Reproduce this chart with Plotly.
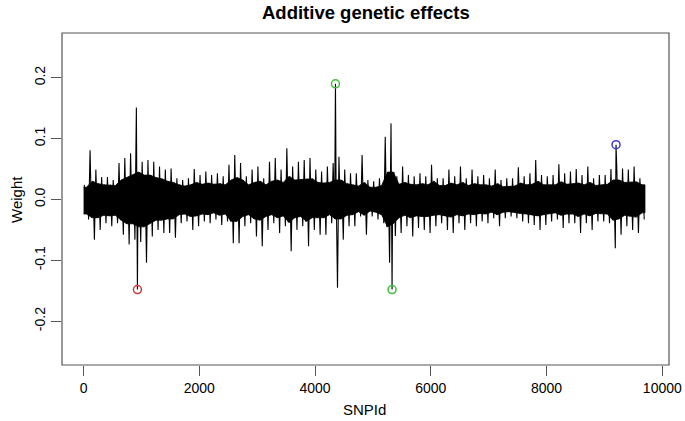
import plotly.graph_objects as go

# ---- data ----
# extreme envelope per 100-SNP bin
bin_start = list(range(0, 9700, 100))
upper = [0.024, 0.081, 0.049, 0.037, 0.037, 0.032, 0.060, 0.068, 0.076, 0.151,
         0.062, 0.065, 0.062, 0.054, 0.049, 0.051, 0.035, 0.032, 0.035, 0.050,
         0.040, 0.046, 0.040, 0.043, 0.038, 0.057, 0.073, 0.060, 0.038, 0.049,
         0.054, 0.035, 0.062, 0.068, 0.049, 0.084, 0.054, 0.062, 0.065, 0.068,
         0.049, 0.046, 0.054, 0.060, 0.070, 0.049, 0.043, 0.043, 0.073, 0.032,
         0.030, 0.035, 0.103, 0.125, 0.038, 0.054, 0.040, 0.038, 0.043, 0.038,
         0.057, 0.035, 0.035, 0.049, 0.038, 0.054, 0.035, 0.049, 0.038, 0.040,
         0.035, 0.049, 0.032, 0.035, 0.035, 0.053, 0.038, 0.043, 0.065, 0.040,
         0.038, 0.040, 0.058, 0.043, 0.046, 0.050, 0.040, 0.054, 0.035, 0.040,
         0.040, 0.050, 0.054, 0.051, 0.049, 0.054, 0.035]
lower = [-0.033, -0.066, -0.050, -0.039, -0.044, -0.039, -0.058, -0.074, -0.066, -0.070,
         -0.104, -0.061, -0.050, -0.055, -0.055, -0.063, -0.039, -0.036, -0.050, -0.044,
         -0.036, -0.039, -0.033, -0.042, -0.036, -0.072, -0.072, -0.044, -0.039, -0.061,
         -0.077, -0.050, -0.039, -0.055, -0.044, -0.085, -0.050, -0.044, -0.077, -0.050,
         -0.058, -0.058, -0.039, -0.145, -0.066, -0.044, -0.044, -0.028, -0.058, -0.028,
         -0.033, -0.039, -0.104, -0.060, -0.055, -0.044, -0.061, -0.047, -0.050, -0.055,
         -0.044, -0.039, -0.050, -0.055, -0.039, -0.050, -0.039, -0.044, -0.036, -0.039,
         -0.031, -0.044, -0.031, -0.028, -0.031, -0.036, -0.039, -0.042, -0.050, -0.042,
         -0.036, -0.033, -0.047, -0.039, -0.039, -0.055, -0.039, -0.050, -0.036, -0.036,
         -0.039, -0.080, -0.058, -0.044, -0.050, -0.055, -0.033]

# dense (solid) core band per 100-SNP bin
core_upper = [0.020, 0.030, 0.026, 0.024, 0.024, 0.023, 0.032, 0.036, 0.040, 0.045,
              0.040, 0.040, 0.036, 0.034, 0.030, 0.028, 0.024, 0.022, 0.024, 0.028,
              0.025, 0.027, 0.025, 0.026, 0.024, 0.032, 0.036, 0.032, 0.024, 0.028,
              0.030, 0.024, 0.030, 0.032, 0.028, 0.038, 0.032, 0.033, 0.034, 0.034,
              0.028, 0.027, 0.028, 0.032, 0.032, 0.026, 0.024, 0.022, 0.028, 0.020,
              0.020, 0.023, 0.045, 0.045, 0.025, 0.028, 0.025, 0.024, 0.026, 0.024,
              0.030, 0.023, 0.023, 0.027, 0.024, 0.028, 0.023, 0.026, 0.024, 0.024,
              0.022, 0.026, 0.021, 0.022, 0.022, 0.027, 0.024, 0.025, 0.030, 0.024,
              0.024, 0.024, 0.029, 0.025, 0.026, 0.027, 0.024, 0.028, 0.023, 0.024,
              0.025, 0.032, 0.032, 0.028, 0.028, 0.029, 0.024]
core_lower = [-0.024, -0.030, -0.030, -0.026, -0.027, -0.026, -0.034, -0.040, -0.040, -0.045,
              -0.045, -0.040, -0.034, -0.034, -0.032, -0.032, -0.025, -0.024, -0.028, -0.027,
              -0.024, -0.025, -0.022, -0.026, -0.024, -0.036, -0.036, -0.028, -0.025, -0.032,
              -0.034, -0.028, -0.025, -0.030, -0.027, -0.038, -0.030, -0.028, -0.036, -0.030,
              -0.030, -0.030, -0.025, -0.032, -0.032, -0.026, -0.025, -0.020, -0.026, -0.019,
              -0.021, -0.025, -0.045, -0.040, -0.030, -0.026, -0.030, -0.027, -0.028, -0.028,
              -0.026, -0.025, -0.027, -0.029, -0.025, -0.027, -0.024, -0.025, -0.023, -0.024,
              -0.021, -0.025, -0.021, -0.020, -0.021, -0.023, -0.024, -0.025, -0.027, -0.025,
              -0.023, -0.022, -0.026, -0.024, -0.024, -0.028, -0.024, -0.027, -0.023, -0.023,
              -0.024, -0.034, -0.032, -0.026, -0.028, -0.029, -0.022]

# highlighted SNPs
hl_snp = [930, 4352, 5330, 9200]
hl_val = [-0.148, 0.190, -0.148, 0.090]
hl_col = ["#D03C3C", "#3CC03C", "#3CC03C", "#3C3CC8"]

x_ticks = [0, 2000, 4000, 6000, 8000, 10000]
x_ticktext = ["0", "2000", "4000", "6000", "8000", "10000"]
y_ticks = [-0.2, -0.1, 0.0, 0.1, 0.2]
y_ticktext = ["-0.2", "-0.1", "0.0", "0.1", "0.2"]

# ---- build marks ----
pts = []
band_x = []
for b, u, l, cu, cl in zip(bin_start, upper, lower, core_upper, core_lower):
    pts.append((b + 12, u))
    pts.append((b + 37, cl))
    pts.append((b + 62, cu))
    pts.append((b + 87, l))
    band_x.append(b + 50)
for s, v in zip(hl_snp, hl_val):
    pts.append((s, v))
pts.sort(key=lambda p: p[0])
xs = [p[0] for p in pts]
ys = [p[1] for p in pts]

bx = [bin_start[0]] + band_x + [bin_start[-1] + 100]
bhi = [core_upper[0]] + core_upper + [core_upper[-1]]
blo = [core_lower[0]] + core_lower + [core_lower[-1]]

FONT = "Liberation Sans, Arial, sans-serif"
AX = "#555555"

fig = go.Figure()
fig.add_trace(go.Scatter(x=bx + bx[::-1], y=bhi + blo[::-1],
                         mode="lines", fill="toself", fillcolor="black",
                         line=dict(color="black", width=0.8),
                         hoverinfo="skip", showlegend=False))
fig.add_trace(go.Scatter(x=xs, y=ys, mode="lines",
                         line=dict(color="black", width=1.1),
                         hoverinfo="skip", showlegend=False))
fig.add_trace(go.Scatter(x=hl_snp, y=hl_val, mode="markers",
                         marker=dict(symbol="circle-open", size=8,
                                     color=hl_col, line=dict(width=1.5, color=hl_col)),
                         showlegend=False))

fig.update_layout(
    width=685, height=421,
    margin=dict(l=62, r=16, t=33, b=56),
    paper_bgcolor="white", plot_bgcolor="white",
    font=dict(family=FONT, size=14, color="black"),
    xaxis=dict(range=[-373, 10115], tickvals=x_ticks, ticktext=x_ticktext,
               ticks="outside", ticklen=10, tickcolor=AX, tickwidth=1,
               showgrid=False, zeroline=False, showline=False, automargin=False,
               tickfont=dict(size=14)),
    yaxis=dict(range=[-0.272, 0.2735], tickvals=y_ticks, ticktext=y_ticktext,
               ticks="outside", ticklen=10, tickcolor=AX, tickwidth=1, tickangle=-90,
               showgrid=False, zeroline=False, showline=False, automargin=False,
               tickfont=dict(size=14)),
    shapes=[dict(type="rect", xref="paper", yref="paper", x0=0, x1=1, y0=0, y1=1,
                 line=dict(color=AX, width=1.2))],
    annotations=[
        dict(text="<b>Additive genetic effects</b>", xref="paper", yref="paper",
             x=0.5008, y=1.063, xanchor="center", yanchor="middle", showarrow=False,
             font=dict(size=18.5, family=FONT)),
        dict(text="SNPId", xref="paper", yref="paper", x=0.499, y=-0.1355,
             xanchor="center", yanchor="middle", showarrow=False,
             font=dict(size=15, family=FONT)),
        dict(text="Weight", xref="paper", yref="paper", x=-0.0758, y=0.5,
             xanchor="center", yanchor="middle", showarrow=False, textangle=-90,
             font=dict(size=15, family=FONT)),
    ],
)

fig.write_html("out.html", config={"displayModeBar": False},
               post_script="document.body.style.margin='0';")
